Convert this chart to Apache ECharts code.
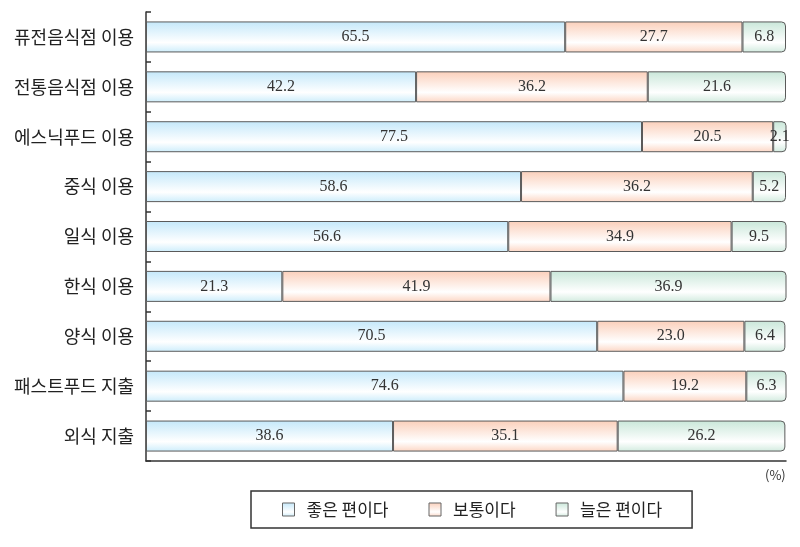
<!DOCTYPE html>
<html>
<head>
<meta charset="utf-8">
<script src="https://cdn.jsdelivr.net/npm/echarts@6/dist/echarts.min.js"></script>
<style>
html,body{margin:0;padding:0;background:#fff;}
#main{width:800px;height:547px;}
</style>
</head>
<body>
<div id="main"></div>
<script>
var categories = ['퓨전음식점 이용','전통음식점 이용','에스닉푸드 이용','중식 이용','일식 이용','한식 이용','양식 이용','패스트푸드 지출','외식 지출'];
var seriesNames = ['좋은 편이다','보통이다','늘은 편이다'];
var good = [65.5, 42.2, 77.5, 58.6, 56.6, 21.3, 70.5, 74.6, 38.6];
var normal = [27.7, 36.2, 20.5, 36.2, 34.9, 41.9, 23.0, 19.2, 35.1];
var bad = [6.8, 21.6, 2.1, 5.2, 9.5, 36.9, 6.4, 6.3, 26.2];

function grad(edge, edge2) {
  return new echarts.graphic.LinearGradient(0, 0, 0, 1, [
    {offset: 0, color: edge},
    {offset: 0.68, color: '#ffffff'},
    {offset: 1, color: edge2}
  ]);
}
var colors = [
  grad('#c4e8fa', '#cdedfb'),
  grad('#fbcfba', '#fcd6c4'),
  grad('#c9e7d9', '#d2ebdf')
];
var datas = [good, normal, bad];
var chart = echarts.init(document.getElementById('main'));
var series = datas.map(function (d, i) {
  return {
    name: seriesNames[i],
    type: 'bar',
    stack: 'total',
    barWidth: 31,
    clip: true,
    data: d,
    itemStyle: {
      color: colors[i],
      borderColor: '#5a5a5a',
      borderWidth: 1,
      borderRadius: i === 2 ? [0, 4, 4, 0] : 0
    },
    label: {
      show: true,
      position: 'inside',
      fontFamily: 'Liberation Serif',
      fontSize: 16,
      color: '#333',
      formatter: function (p) { return p.value.toFixed(1); }
    }
  };
});
chart.setOption({
  animation: false,
  backgroundColor: '#fff',
  grid: {left: 146, right: 14, top: 12, bottom: 86},
  xAxis: {
    type: 'value', min: 0, max: 100,
    axisLine: {show: true, lineStyle: {color: '#333', width: 1.5}},
    axisTick: {show: false},
    axisLabel: {show: false},
    splitLine: {show: false}
  },
  yAxis: {
    type: 'category', inverse: true, data: categories,
    axisLine: {show: true, lineStyle: {color: '#333', width: 1.5}},
    axisTick: {show: true, inside: true, length: 5, lineStyle: {color: '#333', width: 1.5}},
    axisLabel: {fontFamily: 'Noto Sans CJK KR', fontSize: 18, color: '#222', margin: 12}
  },
  legend: {
    left: 251, top: 491,
    padding: [10, 30, 10, 31],
    borderColor: '#333', borderWidth: 1.5,
    itemWidth: 12, itemHeight: 13, itemGap: 40,
    icon: 'rect',
    itemStyle: {borderColor: '#666', borderWidth: 1},
    textStyle: {fontFamily: 'Noto Sans CJK KR', fontSize: 17, color: '#222', padding: [0, 0, 0, 7]},
    data: seriesNames
  },
  graphic: [{
    type: 'text', left: 765, top: 469,
    style: {text: '(%)', fontFamily: 'Noto Sans CJK KR', fontSize: 13, fill: '#333'}
  }],
  series: series
});
</script>
</body>
</html>
